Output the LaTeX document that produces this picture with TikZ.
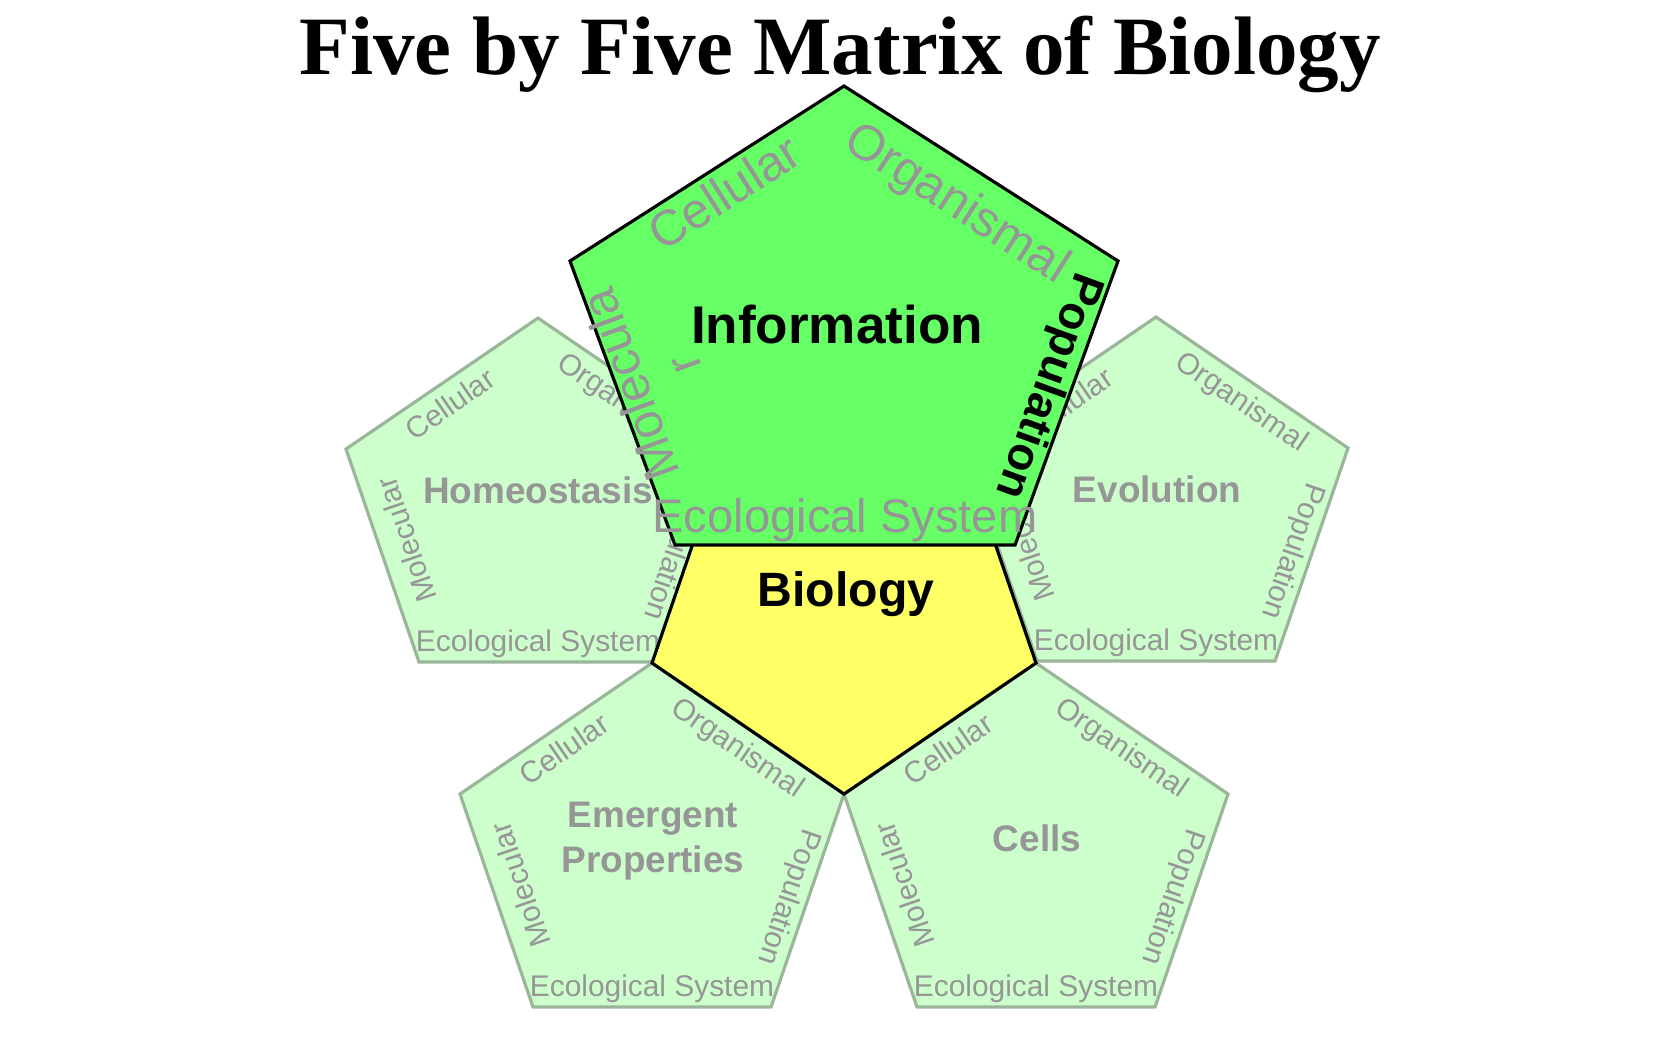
\documentclass[tikz,border=0pt]{standalone}
\usepackage{fontspec}
\setmainfont{Liberation Sans}
\newfontfamily\headfont{Liberation Serif}
\definecolor{infog}{HTML}{66FF66}
\definecolor{bioy}{HTML}{FFFF66}
\definecolor{paleg}{HTML}{CCFFCC}
\definecolor{paleedge}{HTML}{9AB59A}
\definecolor{labg}{HTML}{969696}
\begin{document}
\begin{tikzpicture}[x=0.01cm,y=-0.01cm]
	\tikzset{petal/.style={fill=paleg, draw=paleedge, line width=0.9pt},
		core/.style={fill=#1, draw=black, line width=0.9pt},
		edgelab/.style={text=labg, inner sep=0pt, font=\fontsize{8.5}{10}\selectfont},
		biglab/.style={text=labg, inner sep=0pt, font=\fontsize{14.2}{16.2}\selectfont},
		mainlab/.style={text=labg, inner sep=0pt, anchor=base, font=\bfseries\fontsize{10.5}{12.8}\selectfont},
		keylab/.style={inner sep=0pt, anchor=base, font=\bfseries\fontsize{#1}{#1}\selectfont}};
	\useasboundingbox (0,0) rectangle (1680,1050);

	\node[inner sep=0pt, anchor=base, font=\headfont\bfseries\fontsize{23.6}{28}\selectfont] (head) at (840,74) {Five by Five Matrix of Biology};

	% the four pale petals round the centre
	\foreach \cx/\cy/\nm in {538/508/hom, 1156/507/evo, 652/853/eme, 1036/853/cel}{
		\begin{scope}[shift={(\cx,\cy)}]
			\draw[petal] (0,-190) -- (192,-59) -- (119,154) -- (-119,154) -- (-192,-59) -- cycle;
			\node[edgelab, rotate=34.5] (\nm-c) at (-88,-104) {Cellular};
			\node[edgelab, rotate=-34.5] (\nm-o) at (85,-104) {Organismal};
			\node[edgelab, rotate=-108.8] (\nm-p) at (136,44) {Population};
			\node[edgelab, rotate=108.8] (\nm-m) at (-132,32) {Molecular};
			\node[edgelab, anchor=base] (\nm-e) at (0,143) {Ecological System};
		\end{scope}}

	% centre
	\draw[core=bioy] (844,794) -- (1036,663) -- (963,450) -- (725,450) -- (652,663) -- cycle;

	% information
	\draw[core=infog] (844,86) -- (1118,261) -- (1015,545) -- (675,545) -- (570,261) -- cycle;
	\node[biglab, rotate=32.6] (inf-c) at (724,192) {Cellular};
	\node[biglab, rotate=-32.6] (inf-o) at (956,205) {Organismal};
	\node[biglab, rotate=110.3, align=center] (inf-m) at (656,375) {Molecula\\r};
	\node[inner sep=0pt, rotate=-109.9, font=\bfseries\fontsize{13}{15}\selectfont] (inf-p) at (1047,386) {Population};
	\node[biglab, anchor=base, font=\fontsize{13.4}{16}\selectfont] (inf-e) at (845,532) {Ecological System};

	\node[mainlab] (hom) at (538,503) {Homeostasis};
	\node[mainlab] (evo) at (1157,502) {Evolution};
	\node[mainlab, anchor=center, align=center] (eme) at (653,841) {Emergent\\Properties};
	\node[mainlab] (cel) at (1037,851) {Cells};
	\node[keylab=15.1] (inf) at (837,343) {Information};
	\node[keylab=13.7] (bio) at (846,606) {Biology};
\end{tikzpicture}
\end{document}
